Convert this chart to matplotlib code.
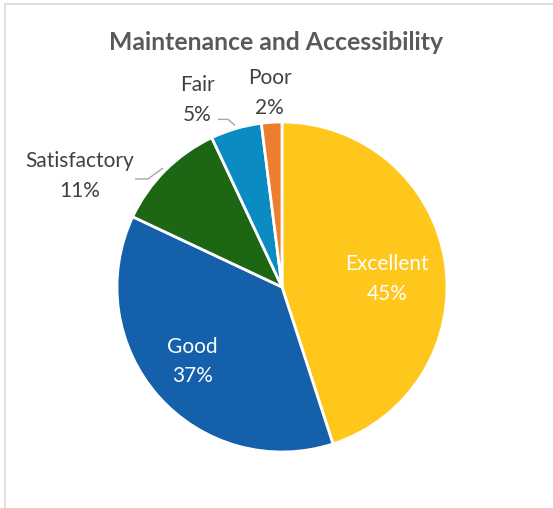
import numpy as np
import matplotlib
matplotlib.use("Agg")
import matplotlib.pyplot as plt
from matplotlib.lines import Line2D

categories = ["Excellent", "Good", "Satisfactory", "Fair", "Poor"]
shares = [45, 37, 11, 5, 2]
colors = ["#FFC61B", "#1560AB", "#1D6614", "#0A8CC2", "#EE7D31"]

W, H = 553, 508
fig = plt.figure(figsize=(W / 100, H / 100), dpi=100)
ax = fig.add_axes([0, 0, 1, 1])

cx, cy, R = 282, H - 287, 165
wedges, _ = ax.pie(shares, colors=colors, startangle=90, counterclock=False,
                   center=(cx, cy), radius=R,
                   wedgeprops=dict(edgecolor="white", linewidth=2.0))
ax.set_xlim(0, W)
ax.set_ylim(0, H)
ax.set_aspect("equal")
ax.axis("off")

# label placement: (radius factor, angular nudge in degrees, inside?)
placement = {
    "Excellent": (0.64, 4, True),
    "Good": (0.70, 2, True),
    "Satisfactory": (1.40, -16, False),
    "Fair": (1.25, -8, False),
    "Poor": (1.185, 0, False),
}
font = "Lato"
for w, cat, val in zip(wedges, categories, shares):
    mid = np.deg2rad((w.theta1 + w.theta2) / 2)
    rf, nudge, inside = placement[cat]
    ang = mid - np.deg2rad(nudge)
    tx, ty = cx + rf * R * np.cos(ang), cy + rf * R * np.sin(ang)
    ax.text(tx, ty - 1, f"{cat}\n{val}%", ha="center", va="center",
            fontsize=15, family=font, linespacing=1.6,
            color="white" if inside else "#404040")
    # leader lines for the thin outer slices
    if cat in ("Satisfactory", "Fair"):
        ex, ey = cx + 1.02 * R * np.cos(mid), cy + 1.02 * R * np.sin(mid)
        if cat == "Satisfactory":
            pts = [(ex, ey), (ex - 15, ey - 11), (ex - 28, ey - 11)]
        else:
            pts = [(ex, ey), (ex - 7, ey + 6), (ex - 17, ey + 6)]
        xs, ys = zip(*pts)
        ax.plot(xs, ys, color="#A6A6A6", linewidth=1.0, solid_capstyle="butt")

ax.text(276, H - 42, "Maintenance and Accessibility", ha="center", va="center",
        fontsize=17.8, fontweight="bold", family=font, color="#595959")

# chart frame (top and left edges)
fig.add_artist(Line2D([5 / W, 1], [1 - 4 / H, 1 - 4 / H], color="#D9D9D9", linewidth=1.2,
                      transform=fig.transFigure))
fig.add_artist(Line2D([5 / W, 5 / W], [0, 1 - 4 / H], color="#D9D9D9", linewidth=1.2,
                      transform=fig.transFigure))

fig.savefig("out.png", dpi=100, facecolor="white")
